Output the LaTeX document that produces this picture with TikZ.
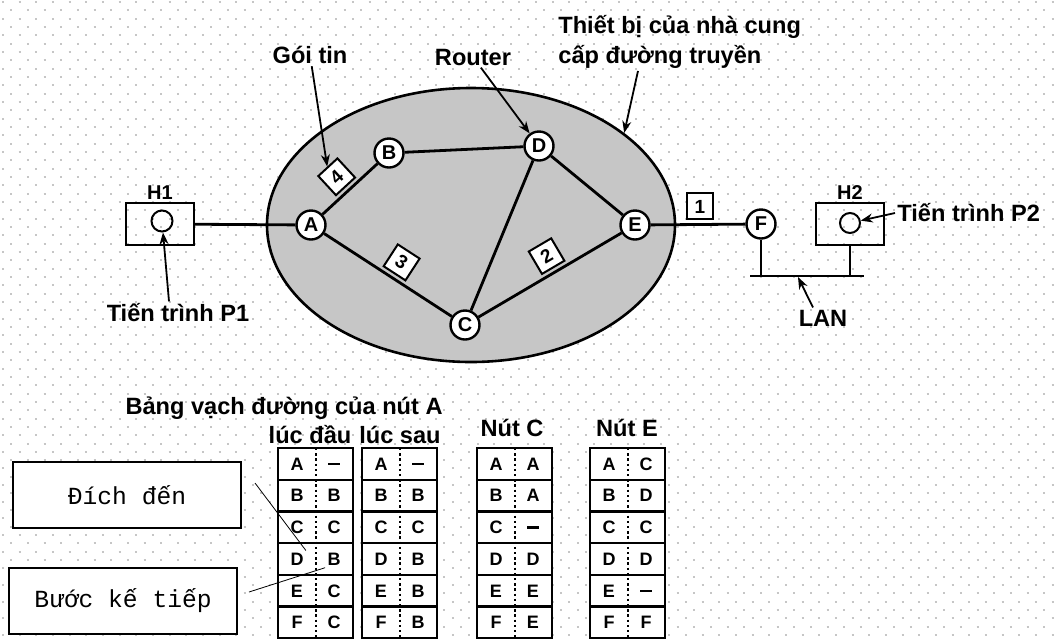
\documentclass[tikz,border=0pt]{standalone}
\usepackage{fontspec}
\setmainfont{Liberation Sans}
\newfontfamily\monofont{Liberation Mono}
\usetikzlibrary{arrows.meta,positioning,calc,shapes.geometric}

\tikzset{
  router/.style={circle, draw, fill=white, line width=1.2pt, minimum size=14.5pt, inner sep=0pt,
    font=\fontsize{10}{10}\selectfont\bfseries},
  link/.style={line width=1.4pt},
  pkt/.style={draw, fill=white, line width=1pt, minimum size=13pt, inner sep=0pt,
    font=\fontsize{9.5}{9.5}\selectfont\bfseries},
  ptr/.style={line width=0.9pt, -{Stealth[length=6pt,width=4.5pt]}},
  lbl/.style={font=\fontsize{11.8}{15}\selectfont\bfseries, inner sep=1pt},
  hostlbl/.style={font=\fontsize{10}{10}\selectfont\bfseries, inner sep=1pt},
  hostbox/.style={draw, line width=1pt, minimum width=34pt, minimum height=21pt},
  proc/.style={circle, draw, line width=1pt, minimum size=10.5pt, inner sep=0pt},
  tabcell/.style={font=\fontsize{9}{9}\selectfont\bfseries, inner sep=1pt},
  tabframe/.style={line width=1.2pt},
  tabdiv/.style={line width=1.2pt, dash pattern=on 1.2pt off 1.4pt},
  legend/.style={draw, fill=white, line width=1pt, minimum width=114pt, minimum height=33pt,
    font=\monofont\fontsize{12.3}{12.3}\selectfont},
  paper/.style={gray!45, line width=1pt, dash pattern=on 1pt off 7.33pt}
}

% empty next hop
\newcommand{\nohop}{\rule[-0.55pt]{6pt}{1.1pt}}

% routing table: left x, name, list of destination/next hop
\newcommand{\routetab}[3]{%
  \fill[white] (#1,448) rectangle (#1+75,638);
  \foreach \dst/\hop [count=\r from 0] in {#3} {
    \node[tabcell] (#2-\r) at (#1+19,464+\r*31.7) {\dst};
    \node[tabcell] (#2n-\r) at (#1+56,464+\r*31.7) {\hop};
  }
  \draw[tabframe] (#1,448) rectangle (#1+75,638);
  \foreach \r in {1,...,5}
    \draw[tabframe] (#1,448+\r*31.7) -- (#1+75,448+\r*31.7);
  \draw[tabdiv] (#1+38,448) -- (#1+38,638);
}

\begin{document}
\begin{tikzpicture}[x=0.5pt, y=-0.5pt]
  \useasboundingbox[fill=white] (0,0) rectangle (1057,639);

  % dotted paper
  \foreach \j in {0,2,...,76}
    \draw[paper] (2,\j*8.33+2) -- (1057,\j*8.33+2);
  \foreach \j in {1,3,...,75}
    \draw[paper] (10.33,\j*8.33+2) -- (1057,\j*8.33+2);

  % provider network
  \node[ellipse, draw, fill=gray!45, line width=1.3pt, minimum width=204pt, minimum height=137pt,
    inner sep=0pt] (net) at (471,225) {};

  % routers
  \node[router] (A) at (311,225) {A};
  \node[router] (B) at (389,153) {B};
  \node[router] (D) at (539,146) {D};
  \node[router] (C) at (465,325) {C};
  \node[router] (E) at (635,225) {E};
  \node[router] (F) at (761,224) {F};

  % hosts
  \node[hostbox] (h1) at (160,224) {};
  \node[proc] (h1c) at (162,221) {};
  \node[hostlbl, above=0pt of h1] (h1l) {H1};
  \node[hostbox] (h2) at (850,224) {};
  \node[proc, minimum size=10pt] (h2c) at (850,223) {};
  \node[hostlbl, above=0pt of h2] (h2l) {H2};

  % links and packets
  \draw[link] (h1) -- (A);
  \draw[link] (A) -- node[pkt, sloped, above=2pt, pos=0.48] (p4) {4} (B);
  \draw[link] (B) -- (D);
  \draw[link] (D) -- (E);
  \draw[link] (D) -- (C);
  \draw[link] (A) -- node[pkt, sloped, above=2pt, pos=0.53] (p3) {3} (C);
  \draw[link] (C) -- node[pkt, sloped, above=2pt, pos=0.54] (p2) {2} (E);
  \draw[link] (E) -- node[pkt, above=2pt, pos=0.52] (p1) {1} (F);

  % LAN
  \coordinate (lanL) at (750,276);
  \coordinate (lanR) at (864,276);
  \coordinate (lanpt) at (798,277);
  \draw[link] (lanL) -- (lanR);
  \draw[link] (F) -- (F |- lanL);
  \draw[link] (h2) -- (h2 |- lanL);

  % labels
  \node[lbl] (gt) at (310,55) {Gói tin};
  \node[lbl] (rt) at (473,57) {Router};
  \node[lbl, align=left, anchor=west] (prov) at (556,42) {Thiết bị của nhà cung\\cấp đường truyền};
  \node[lbl] (p1l) at (178,313) {Tiến trình P1};
  \node[lbl, anchor=west] (p2l) at (895,213) {Tiến trình P2};
  \node[lbl] (lanl) at (823,318) {LAN};

  \draw[ptr] (gt) -- (p4.north);
  \draw[ptr] (rt) -- (D);
  \draw[ptr] ([xshift=41pt]prov.south west) -- (net.31.6);
  \draw[ptr] ([xshift=-4.5pt]p1l.north) -- (h1c);
  \draw[ptr] (p2l.west) -- (h2c);
  \draw[ptr] ([xshift=-5pt]lanl.north) -- (lanpt);

  % routing tables
  \node[lbl, anchor=east] (tabt) at (445,408) {Bảng vạch đường của nút A};
  \node[lbl] (ta-l) at (310,435) {lúc đầu};
  \node[lbl] (tb-l) at (400,435) {lúc sau};
  \node[lbl] (tc-l) at (512,428) {Nút C};
  \node[lbl] (te-l) at (627,428) {Nút E};

  \routetab{278}{ta}{A/\nohop,B/B,C/C,D/B,E/C,F/C}
  \routetab{362}{tb}{A/\nohop,B/B,C/C,D/B,E/B,F/B}
  \routetab{477}{tc}{A/A,B/A,C/\nohop,D/D,E/E,F/E}
  \routetab{590}{te}{A/C,B/D,C/C,D/D,E/\nohop,F/F}

  % legend
  \node[legend] (dst) at (127,495) {Đích đến};
  \node[legend] (nxt) at (123,601) {Bước kế tiếp};
  \draw[thin] ($(dst.east)+(13,-12)$) -- (ta-3.north east);
  \draw[thin] ($(nxt.east)+(11,-9)$) -- (tan-3.south west);
\end{tikzpicture}
\end{document}
